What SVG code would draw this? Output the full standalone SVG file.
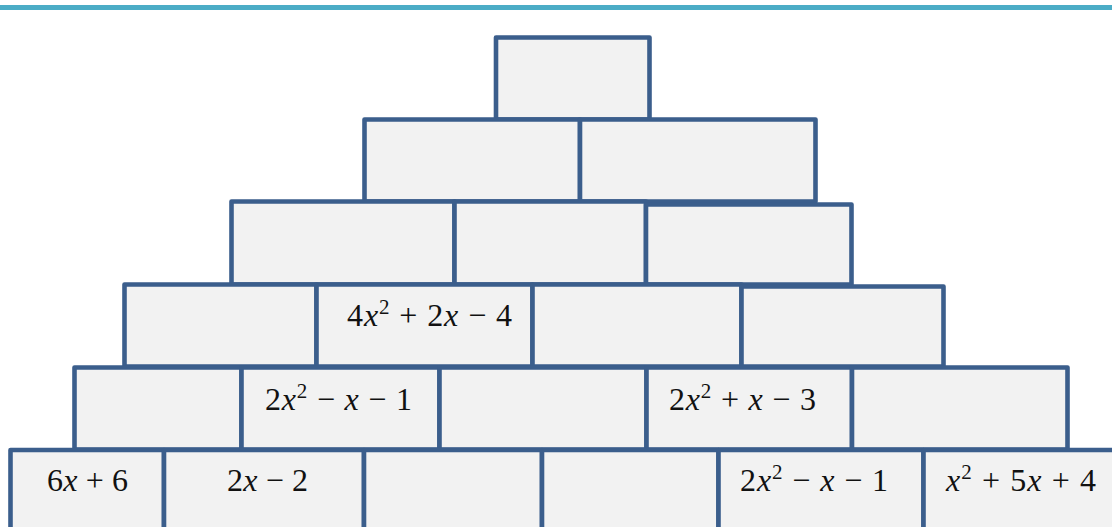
<svg xmlns="http://www.w3.org/2000/svg" width="1112" height="527" viewBox="0 0 1112 527">
<style>
.b{fill:#f2f2f2;stroke:#3b5e8c;stroke-width:4.6;stroke-linejoin:round}
.t{font-family:"Liberation Serif","Times New Roman",serif;font-size:32px;fill:#111}
.v{font-style:italic}
.s{font-size:21px}
</style>
<rect x="0" y="5" width="1112" height="5" fill="#4bacc6"/>
<g id="row1"><rect class="b" x="496" y="37.5" width="153.5" height="82"/></g>
<g id="row2">
<rect class="b" x="364.5" y="119.5" width="215.5" height="82"/>
<rect class="b" x="580" y="119.5" width="235.5" height="82"/>
</g>
<g id="row3">
<rect class="b" x="231.5" y="201.5" width="223" height="83"/>
<rect class="b" x="454.5" y="201.5" width="191.5" height="83"/>
<rect class="b" x="646" y="204.5" width="205.5" height="80"/>
</g>
<g id="row4">
<rect class="b" x="124.5" y="284.5" width="192" height="82"/>
<rect class="b" x="316.5" y="284.5" width="216" height="82"/>
<rect class="b" x="532.5" y="284.5" width="209" height="82"/>
<rect class="b" x="741.5" y="286.5" width="202" height="80"/>
</g>
<g id="row5">
<rect class="b" x="74.5" y="367.5" width="167" height="82"/>
<rect class="b" x="241.5" y="367.5" width="198" height="82"/>
<rect class="b" x="439.5" y="367.5" width="207" height="82"/>
<rect class="b" x="646.5" y="367.5" width="205.5" height="82"/>
<rect class="b" x="852" y="367.5" width="215.5" height="82"/>
</g>
<g id="row6">
<rect class="b" x="10.5" y="450" width="153.5" height="90"/>
<rect class="b" x="164" y="450" width="200" height="90"/>
<rect class="b" x="364" y="450" width="178" height="90"/>
<rect class="b" x="542" y="450" width="176.5" height="90"/>
<rect class="b" x="718.5" y="450" width="205" height="90"/>
<rect class="b" x="923.5" y="450" width="200" height="90"/>
</g>
<g id="labels">
<text class="t" x="347" y="326" textLength="165" lengthAdjust="spacing">4<tspan class="v">x</tspan><tspan class="s" dy="-12">2</tspan><tspan dy="12"> + 2</tspan><tspan class="v">x</tspan> − 4</text>
<text class="t" x="265" y="410" textLength="147" lengthAdjust="spacing">2<tspan class="v">x</tspan><tspan class="s" dy="-12">2</tspan><tspan dy="12"> − </tspan><tspan class="v">x</tspan> − 1</text>
<text class="t" x="669" y="410" textLength="147" lengthAdjust="spacing">2<tspan class="v">x</tspan><tspan class="s" dy="-12">2</tspan><tspan dy="12"> + </tspan><tspan class="v">x</tspan> − 3</text>
<text class="t" x="47" y="491" textLength="81" lengthAdjust="spacing">6<tspan class="v">x</tspan> + 6</text>
<text class="t" x="227" y="491" textLength="81" lengthAdjust="spacing">2<tspan class="v">x</tspan> − 2</text>
<text class="t" x="740" y="491" textLength="148" lengthAdjust="spacing">2<tspan class="v">x</tspan><tspan class="s" dy="-12">2</tspan><tspan dy="12"> − </tspan><tspan class="v">x</tspan> − 1</text>
<text class="t" x="946" y="491" textLength="150" lengthAdjust="spacing"><tspan class="v">x</tspan><tspan class="s" dy="-12">2</tspan><tspan dy="12"> + 5</tspan><tspan class="v">x</tspan> + 4</text>
</g>
</svg>
